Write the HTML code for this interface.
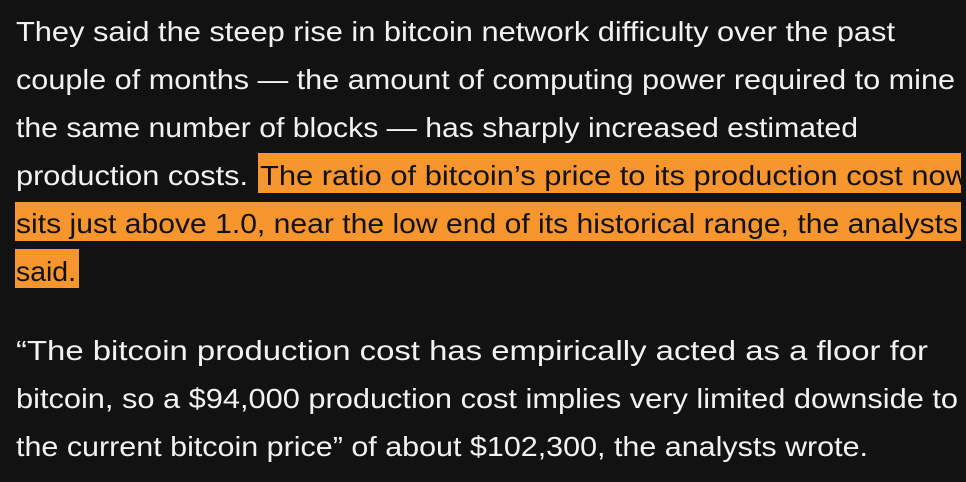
<!DOCTYPE html>
<html><head><meta charset="utf-8"><style>
html,body{margin:0;padding:0;background:#121212;}
svg{display:block;}
text{font-family:"Liberation Sans",sans-serif;font-size:28px;}
.w{fill:#f2f2f2;}
.b{fill:#111;}
</style></head><body>
<svg width="966" height="482" viewBox="0 0 966 482" xmlns="http://www.w3.org/2000/svg">
<rect width="966" height="482" fill="#121212"/>
<defs><clipPath id="c"><rect x="0" y="0" width="961" height="482"/></clipPath></defs>
<rect x="258" y="153" width="703" height="40" fill="#f7952f"/>
<rect x="15" y="202" width="946" height="39" fill="#f7952f"/>
<rect x="15" y="249" width="64" height="39" fill="#f7952f"/>
<g clip-path="url(#c)">
<text class="w" x="16" y="41" textLength="879" lengthAdjust="spacingAndGlyphs">They said the steep rise in bitcoin network difficulty over the past</text>
<text class="w" x="16" y="89" textLength="939" lengthAdjust="spacingAndGlyphs">couple of months — the amount of computing power required to mine</text>
<text class="w" x="16" y="137" textLength="842" lengthAdjust="spacingAndGlyphs">the same number of blocks — has sharply increased estimated</text>
<text class="w" x="16" y="185" textLength="232" lengthAdjust="spacingAndGlyphs">production costs.</text>
<text class="b" x="260" y="185" textLength="708" lengthAdjust="spacingAndGlyphs">The ratio of bitcoin’s price to its production cost now</text>
<text class="b" x="16" y="233" textLength="942" lengthAdjust="spacingAndGlyphs">sits just above 1.0, near the low end of its historical range, the analysts</text>
<text class="b" x="16" y="281" textLength="60" lengthAdjust="spacingAndGlyphs">said.</text>
</g>
<text class="w" x="16" y="360" textLength="912" lengthAdjust="spacingAndGlyphs">“The bitcoin production cost has empirically acted as a floor for</text>
<text class="w" x="16" y="408" textLength="942" lengthAdjust="spacingAndGlyphs">bitcoin, so a $94,000 production cost implies very limited downside to</text>
<text class="w" x="16" y="456" textLength="852" lengthAdjust="spacingAndGlyphs">the current bitcoin price” of about $102,300, the analysts wrote.</text>
</svg>
</body></html>
